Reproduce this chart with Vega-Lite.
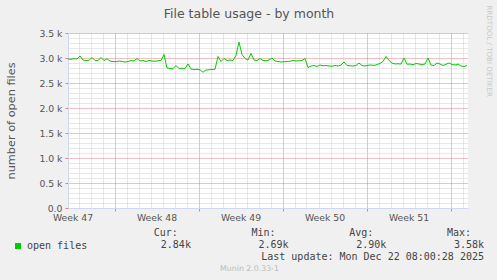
{
  "$schema": "https://vega.github.io/schema/vega-lite/v6.json",
  "autosize": {"type": "pad"},
  "padding": {"left": 5, "top": 5, "right": 10, "bottom": 10},
  "background": "#f0f0f0",
  "bounds": "flush",
  "spacing": 25,
  "title": {"text": "RRDTOOL / TOBI OETIKER", "orient": "right", "anchor": "start", "dx": -2, "font": "DejaVu Sans", "fontSize": 7.1, "fontWeight": "normal", "color": "#c8c8c8", "offset": 2},
  "config": {"view": {"stroke": null}, "font": "DejaVu Sans"},
  "vconcat": [
    {
      "width": 400,
      "height": 175,
      "view": {"fill": "#ffffff", "stroke": null},
      "title": {"text": "File table usage - by month", "anchor": "middle", "frame": "group", "dx": -19, "offset": 9, "font": "DejaVu Sans", "fontSize": 12.5, "fontWeight": "normal", "color": "#555555"},
      "data": {"values": [
        {"t": "2025-11-19T03:00:00", "files": 2980},
        {"t": "2025-11-19T09:00:00", "files": 2975},
        {"t": "2025-11-19T15:00:00", "files": 2985},
        {"t": "2025-11-19T21:00:00", "files": 2980},
        {"t": "2025-11-20T03:00:00", "files": 3040},
        {"t": "2025-11-20T09:00:00", "files": 2960},
        {"t": "2025-11-20T15:00:00", "files": 2950},
        {"t": "2025-11-20T21:00:00", "files": 2955},
        {"t": "2025-11-21T03:00:00", "files": 3010},
        {"t": "2025-11-21T09:00:00", "files": 2950},
        {"t": "2025-11-21T15:00:00", "files": 2945},
        {"t": "2025-11-21T21:00:00", "files": 3010},
        {"t": "2025-11-22T03:00:00", "files": 2950},
        {"t": "2025-11-22T09:00:00", "files": 2985},
        {"t": "2025-11-22T15:00:00", "files": 2940},
        {"t": "2025-11-22T21:00:00", "files": 2930},
        {"t": "2025-11-23T03:00:00", "files": 2925},
        {"t": "2025-11-23T09:00:00", "files": 2940},
        {"t": "2025-11-23T15:00:00", "files": 2930},
        {"t": "2025-11-23T21:00:00", "files": 2920},
        {"t": "2025-11-24T03:00:00", "files": 2930},
        {"t": "2025-11-24T09:00:00", "files": 2950},
        {"t": "2025-11-24T15:00:00", "files": 2940},
        {"t": "2025-11-24T21:00:00", "files": 2990},
        {"t": "2025-11-25T03:00:00", "files": 2940},
        {"t": "2025-11-25T09:00:00", "files": 2950},
        {"t": "2025-11-25T15:00:00", "files": 2930},
        {"t": "2025-11-25T21:00:00", "files": 2950},
        {"t": "2025-11-26T03:00:00", "files": 2940},
        {"t": "2025-11-26T09:00:00", "files": 2935},
        {"t": "2025-11-26T15:00:00", "files": 2945},
        {"t": "2025-11-26T21:00:00", "files": 2950},
        {"t": "2025-11-27T03:00:00", "files": 3070},
        {"t": "2025-11-27T09:00:00", "files": 2800},
        {"t": "2025-11-27T15:00:00", "files": 2790},
        {"t": "2025-11-27T21:00:00", "files": 2785},
        {"t": "2025-11-28T03:00:00", "files": 2850},
        {"t": "2025-11-28T09:00:00", "files": 2790},
        {"t": "2025-11-28T15:00:00", "files": 2795},
        {"t": "2025-11-28T21:00:00", "files": 2790},
        {"t": "2025-11-29T03:00:00", "files": 2880},
        {"t": "2025-11-29T09:00:00", "files": 2780},
        {"t": "2025-11-29T15:00:00", "files": 2770},
        {"t": "2025-11-29T21:00:00", "files": 2775},
        {"t": "2025-11-30T03:00:00", "files": 2765},
        {"t": "2025-11-30T09:00:00", "files": 2715},
        {"t": "2025-11-30T15:00:00", "files": 2760},
        {"t": "2025-11-30T21:00:00", "files": 2765},
        {"t": "2025-12-01T03:00:00", "files": 2770},
        {"t": "2025-12-01T09:00:00", "files": 2775},
        {"t": "2025-12-01T15:00:00", "files": 3030},
        {"t": "2025-12-01T21:00:00", "files": 2930},
        {"t": "2025-12-02T03:00:00", "files": 2990},
        {"t": "2025-12-02T09:00:00", "files": 2950},
        {"t": "2025-12-02T15:00:00", "files": 2960},
        {"t": "2025-12-02T21:00:00", "files": 2950},
        {"t": "2025-12-03T03:00:00", "files": 3050},
        {"t": "2025-12-03T09:00:00", "files": 3320},
        {"t": "2025-12-03T15:00:00", "files": 3070},
        {"t": "2025-12-03T21:00:00", "files": 2990},
        {"t": "2025-12-04T03:00:00", "files": 2960},
        {"t": "2025-12-04T09:00:00", "files": 3090},
        {"t": "2025-12-04T15:00:00", "files": 2960},
        {"t": "2025-12-04T21:00:00", "files": 2950},
        {"t": "2025-12-05T03:00:00", "files": 2990},
        {"t": "2025-12-05T09:00:00", "files": 2950},
        {"t": "2025-12-05T15:00:00", "files": 2945},
        {"t": "2025-12-05T21:00:00", "files": 2960},
        {"t": "2025-12-06T03:00:00", "files": 3000},
        {"t": "2025-12-06T09:00:00", "files": 2940},
        {"t": "2025-12-06T15:00:00", "files": 2930},
        {"t": "2025-12-06T21:00:00", "files": 2920},
        {"t": "2025-12-07T03:00:00", "files": 2925},
        {"t": "2025-12-07T09:00:00", "files": 2930},
        {"t": "2025-12-07T15:00:00", "files": 2935},
        {"t": "2025-12-07T21:00:00", "files": 2950},
        {"t": "2025-12-08T03:00:00", "files": 2940},
        {"t": "2025-12-08T09:00:00", "files": 2945},
        {"t": "2025-12-08T15:00:00", "files": 2950},
        {"t": "2025-12-08T21:00:00", "files": 2990},
        {"t": "2025-12-09T03:00:00", "files": 2810},
        {"t": "2025-12-09T09:00:00", "files": 2840},
        {"t": "2025-12-09T15:00:00", "files": 2850},
        {"t": "2025-12-09T21:00:00", "files": 2830},
        {"t": "2025-12-10T03:00:00", "files": 2860},
        {"t": "2025-12-10T09:00:00", "files": 2845},
        {"t": "2025-12-10T15:00:00", "files": 2850},
        {"t": "2025-12-10T21:00:00", "files": 2840},
        {"t": "2025-12-11T03:00:00", "files": 2835},
        {"t": "2025-12-11T09:00:00", "files": 2850},
        {"t": "2025-12-11T15:00:00", "files": 2840},
        {"t": "2025-12-11T21:00:00", "files": 2860},
        {"t": "2025-12-12T03:00:00", "files": 2920},
        {"t": "2025-12-12T09:00:00", "files": 2850},
        {"t": "2025-12-12T15:00:00", "files": 2845},
        {"t": "2025-12-12T21:00:00", "files": 2840},
        {"t": "2025-12-13T03:00:00", "files": 2850},
        {"t": "2025-12-13T09:00:00", "files": 2900},
        {"t": "2025-12-13T15:00:00", "files": 2850},
        {"t": "2025-12-13T21:00:00", "files": 2840},
        {"t": "2025-12-14T03:00:00", "files": 2855},
        {"t": "2025-12-14T09:00:00", "files": 2860},
        {"t": "2025-12-14T15:00:00", "files": 2850},
        {"t": "2025-12-14T21:00:00", "files": 2870},
        {"t": "2025-12-15T03:00:00", "files": 2890},
        {"t": "2025-12-15T09:00:00", "files": 2930},
        {"t": "2025-12-15T15:00:00", "files": 3030},
        {"t": "2025-12-15T21:00:00", "files": 2950},
        {"t": "2025-12-16T03:00:00", "files": 2900},
        {"t": "2025-12-16T09:00:00", "files": 2880},
        {"t": "2025-12-16T15:00:00", "files": 2885},
        {"t": "2025-12-16T21:00:00", "files": 2880},
        {"t": "2025-12-17T03:00:00", "files": 3000},
        {"t": "2025-12-17T09:00:00", "files": 2875},
        {"t": "2025-12-17T15:00:00", "files": 2880},
        {"t": "2025-12-17T21:00:00", "files": 2865},
        {"t": "2025-12-18T03:00:00", "files": 2890},
        {"t": "2025-12-18T09:00:00", "files": 2880},
        {"t": "2025-12-18T15:00:00", "files": 2870},
        {"t": "2025-12-18T21:00:00", "files": 2880},
        {"t": "2025-12-19T03:00:00", "files": 3000},
        {"t": "2025-12-19T09:00:00", "files": 2860},
        {"t": "2025-12-19T15:00:00", "files": 2850},
        {"t": "2025-12-19T21:00:00", "files": 2900},
        {"t": "2025-12-20T03:00:00", "files": 2880},
        {"t": "2025-12-20T09:00:00", "files": 2850},
        {"t": "2025-12-20T15:00:00", "files": 2875},
        {"t": "2025-12-20T21:00:00", "files": 2900},
        {"t": "2025-12-21T03:00:00", "files": 2870},
        {"t": "2025-12-21T09:00:00", "files": 2860},
        {"t": "2025-12-21T15:00:00", "files": 2880},
        {"t": "2025-12-21T21:00:00", "files": 2840},
        {"t": "2025-12-22T03:00:00", "files": 2830},
        {"t": "2025-12-22T09:00:00", "files": 2850}
      ]},
      "mark": {"type": "line", "strokeWidth": 1},
      "encoding": {
        "x": {
          "field": "t", "type": "temporal",
          "scale": {"domain": [{"year": 2025, "month": 11, "date": 19, "hours": 3}, {"year": 2025, "month": 12, "date": 22, "hours": 11}]},
          "axis": {
            "title": null,
            "values": [
              {"year": 2025, "month": 11, "date": 19, "hours": 12},
              {"year": 2025, "month": 11, "date": 20}, {"year": 2025, "month": 11, "date": 21}, {"year": 2025, "month": 11, "date": 22},
              {"year": 2025, "month": 11, "date": 23}, {"year": 2025, "month": 11, "date": 24}, {"year": 2025, "month": 11, "date": 25},
              {"year": 2025, "month": 11, "date": 26}, {"year": 2025, "month": 11, "date": 26, "hours": 12}, {"year": 2025, "month": 11, "date": 27},
              {"year": 2025, "month": 11, "date": 28}, {"year": 2025, "month": 11, "date": 29}, {"year": 2025, "month": 11, "date": 30},
              {"year": 2025, "month": 12, "date": 1}, {"year": 2025, "month": 12, "date": 2}, {"year": 2025, "month": 12, "date": 3},
              {"year": 2025, "month": 12, "date": 3, "hours": 12}, {"year": 2025, "month": 12, "date": 4}, {"year": 2025, "month": 12, "date": 5},
              {"year": 2025, "month": 12, "date": 6}, {"year": 2025, "month": 12, "date": 7}, {"year": 2025, "month": 12, "date": 8},
              {"year": 2025, "month": 12, "date": 9}, {"year": 2025, "month": 12, "date": 10}, {"year": 2025, "month": 12, "date": 10, "hours": 12},
              {"year": 2025, "month": 12, "date": 11}, {"year": 2025, "month": 12, "date": 12}, {"year": 2025, "month": 12, "date": 13},
              {"year": 2025, "month": 12, "date": 14}, {"year": 2025, "month": 12, "date": 15}, {"year": 2025, "month": 12, "date": 16},
              {"year": 2025, "month": 12, "date": 17}, {"year": 2025, "month": 12, "date": 17, "hours": 12}, {"year": 2025, "month": 12, "date": 18},
              {"year": 2025, "month": 12, "date": 19}, {"year": 2025, "month": 12, "date": 20}, {"year": 2025, "month": 12, "date": 21},
              {"year": 2025, "month": 12, "date": 22}
            ],
            "labelExpr": "hours(datum.value) === 12 ? 'Week ' + timeFormat(datum.value, '%V') : ''",
            "labelFont": "DejaVu Sans", "labelFontSize": 9.3, "labelColor": "#555555",
            "labelPadding": 2, "labelOverlap": false, "labelFlush": false,
            "domainColor": "#CFD6F8",
            "grid": true,
            "gridColor": {"condition": {"test": "day(datum.value) === 0", "value": "#e58080"}, "value": "#d0d0d0"},
            "gridDash": [1, 1],
            "gridOpacity": {"condition": {"test": "hours(datum.value) === 12", "value": 0}, "value": 1},
            "tickSize": 3,
            "tickColor": "#e58080",
            "tickOpacity": {"condition": {"test": "day(datum.value) === 0 && hours(datum.value) === 0", "value": 1}, "value": 0}
          }
        },
        "y": {
          "field": "files", "type": "quantitative",
          "scale": {"domain": [0, 3500], "nice": false},
          "axis": {
            "title": "number of open files",
            "titleFont": "DejaVu Sans", "titleFontSize": 11.3, "titleFontWeight": "normal", "titleColor": "#555555", "titlePadding": 22,
            "values": [0, 100, 200, 300, 400, 500, 600, 700, 800, 900, 1000, 1100, 1200, 1300, 1400, 1500, 1600, 1700, 1800, 1900, 2000, 2100, 2200, 2300, 2400, 2500, 2600, 2700, 2800, 2900, 3000, 3100, 3200, 3300, 3400, 3500],
            "labelExpr": "datum.value % 500 === 0 ? (datum.value === 0 ? '0.0 ' : format(datum.value / 1000, '.1f') + ' k') : ''",
            "labelFont": "DejaVu Sans", "labelFontSize": 9.3, "labelColor": "#555555",
            "labelPadding": 3, "labelOverlap": false, "labelFlush": false,
            "domainColor": "#CFD6F8",
            "grid": true,
            "gridColor": {"condition": {"test": "datum.value % 500 === 0", "value": "#e58080"}, "value": "#d0d0d0"},
            "gridDash": [1, 1],
            "tickSize": 3,
            "tickColor": "#e58080",
            "tickOpacity": {"condition": {"test": "datum.value % 500 === 0", "value": 1}, "value": 0}
          }
        },
        "color": {
          "datum": "open files",
          "scale": {"range": ["#00CC00"]},
          "legend": {"orient": "none", "legendX": -55, "legendY": 208, "title": null, "padding": 0, "symbolType": "square", "symbolSize": 36, "symbolFillColor": "#00CC00", "symbolStrokeWidth": 0, "labelFont": "DejaVu Sans Mono", "labelFontSize": 10, "labelColor": "#444444", "labelOffset": 4}
        }
      }
    },
    {
      "width": 416,
      "height": 24,
      "view": {"stroke": null},
      "title": {"text": "Munin 2.0.33-1", "orient": "bottom", "anchor": "middle", "frame": "group", "dx": -26.5, "offset": 3, "font": "DejaVu Sans", "fontSize": 7.8, "fontWeight": "normal", "color": "#bbbbbb"},
      "data": {"values": [
        {"row": "head", "col": "Cur", "text": "Cur:"},
        {"row": "head", "col": "Min", "text": "Min:"},
        {"row": "head", "col": "Avg", "text": "Avg:"},
        {"row": "head", "col": "Max", "text": "Max:"},
        {"row": "value", "col": "Cur", "text": "2.84k"},
        {"row": "value", "col": "Min", "text": "2.69k"},
        {"row": "value", "col": "Avg", "text": "2.90k"},
        {"row": "value", "col": "Max", "text": "3.58k"},
        {"row": "update", "col": "Max", "text": "Last update: Mon Dec 22 08:00:28 2025"}
      ]},
      "encoding": {
        "x": {"field": "col", "type": "nominal", "scale": {"type": "point", "domain": ["Cur", "Min", "Avg", "Max"], "padding": 0.629, "align": 1}, "axis": null},
        "y": {"field": "row", "type": "nominal", "scale": {"type": "point", "domain": ["head", "value", "update"], "padding": 0}, "axis": null},
        "text": {"field": "text"}
      },
      "layer": [
        {"transform": [{"filter": "datum.row === 'head'"}], "mark": {"type": "text", "align": "right", "dx": -13, "font": "DejaVu Sans Mono", "fontSize": 10, "color": "#444444"}},
        {"transform": [{"filter": "datum.row !== 'head'"}], "mark": {"type": "text", "align": "right", "font": "DejaVu Sans Mono", "fontSize": 10, "color": "#444444"}}
      ]
    }
  ]
}
